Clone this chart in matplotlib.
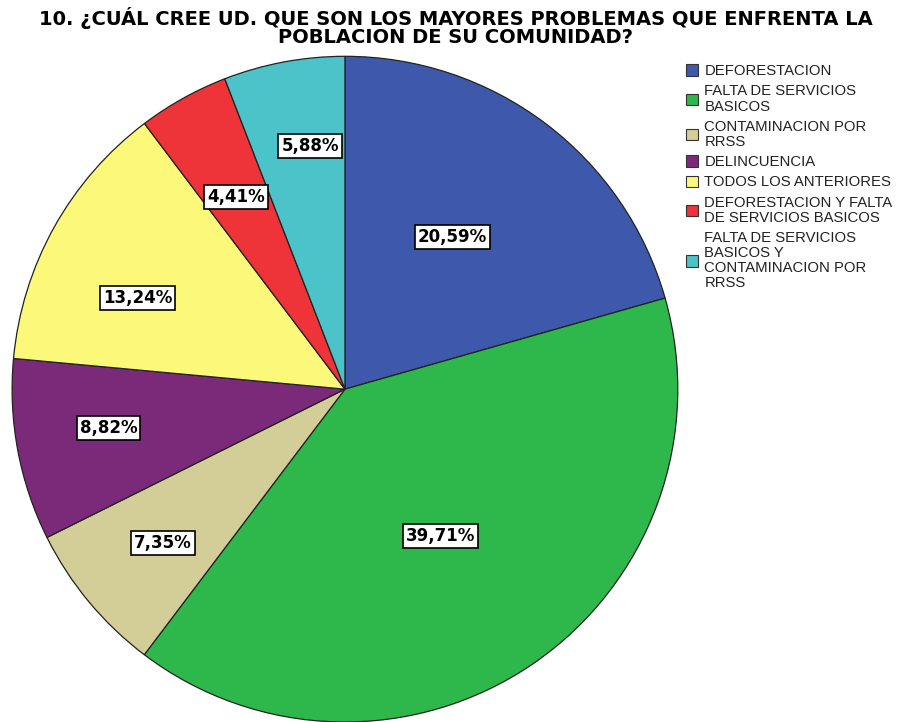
import matplotlib
matplotlib.use("Agg")
import matplotlib.pyplot as plt
import numpy as np
from matplotlib.patches import Patch

categories = ["DEFORESTACION", "FALTA DE SERVICIOS\nBASICOS", "CONTAMINACION POR\nRRSS",
              "DELINCUENCIA", "TODOS LOS ANTERIORES", "DEFORESTACION Y FALTA\nDE SERVICIOS BASICOS",
              "FALTA DE SERVICIOS\nBASICOS Y\nCONTAMINACION POR\nRRSS"]
values = [20.59, 39.71, 7.35, 8.82, 13.24, 4.41, 5.88]
pct_labels = ["20,59%", "39,71%", "7,35%", "8,82%", "13,24%", "4,41%", "5,88%"]
colors = ["#3e58ac", "#2eb84b", "#d3ce97", "#7b2a7a", "#fbf87a", "#ee3438", "#4bc3c8"]
# label placement (layout only): radial distance and angular offset from wedge middle
label_dist = [0.56, 0.527, 0.716, 0.72, 0.68, 0.663, 0.737]
label_dang = [1.8, -1.3, 0.5, -1.3, 5.4, 0.5, -2.4]

fig = plt.figure(figsize=(9.08, 7.22), dpi=100)
ax = fig.add_axes([0.0132, 0.0, 0.7334, 0.922])
wedges, _ = ax.pie(values, colors=colors, startangle=90, counterclock=False, radius=1,
                   wedgeprops=dict(edgecolor="#222222", linewidth=0.9))
ax.set_xlim(-1, 1)
ax.set_ylim(-1, 1)
ax.set_aspect("equal")
ax.axis("off")

for w, lab, d, da in zip(wedges, pct_labels, label_dist, label_dang):
    ang = np.deg2rad((w.theta1 + w.theta2) / 2 + da)
    ax.text(d * np.cos(ang), d * np.sin(ang), lab, ha="center", va="center",
            fontsize=12, fontweight="bold", family="DejaVu Sans",
            bbox=dict(boxstyle="square,pad=0.18", facecolor="white", edgecolor="black", linewidth=1.2))

fig.text(0.502, 0.99, "10. ¿CUÁL CREE UD. QUE SON LOS MAYORES PROBLEMAS QUE ENFRENTA LA\nPOBLACION DE SU COMUNIDAD?",
         ha="center", va="top", fontsize=14, fontweight="heavy", family="DejaVu Sans",
         linespacing=0.92)

handles = [Patch(facecolor=c, edgecolor="#333333", linewidth=0.8) for c in colors]
leg = fig.legend(handles, categories, loc="upper left", bbox_to_anchor=(0.756, 0.911),
                 frameon=False, handlelength=0.8, handleheight=0.8, handletextpad=0.4,
                 labelspacing=0.42, borderaxespad=0, borderpad=0,
                 prop=dict(family="Liberation Sans", size=10.7))
for t in leg.get_texts():
    t.set_linespacing(1.1)
    t.set_color("#222222")

fig.savefig("out.png", dpi=100)
